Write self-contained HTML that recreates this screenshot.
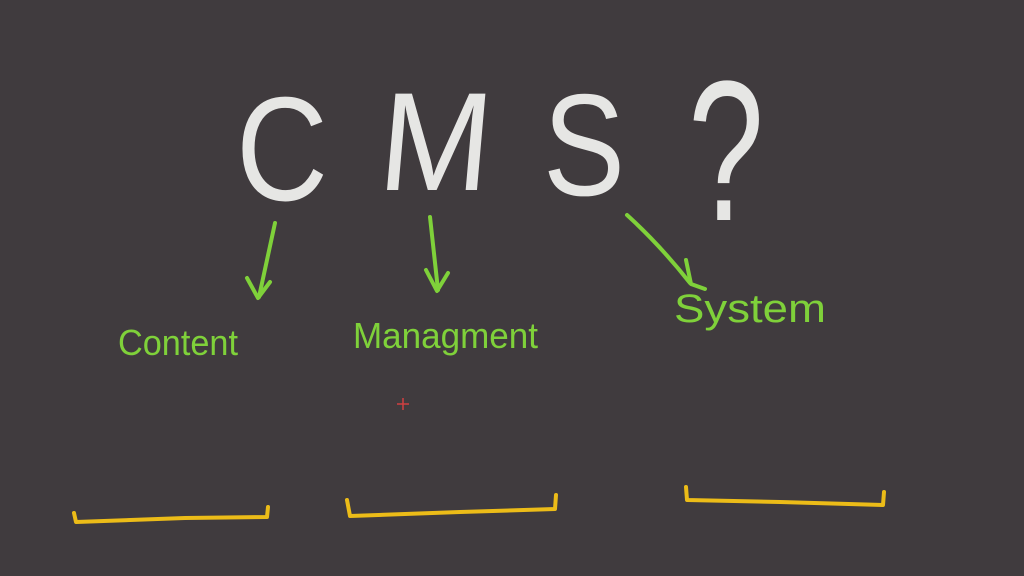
<!DOCTYPE html>
<html><head><meta charset="utf-8"><style>
html,body{margin:0;padding:0;background:#403b3e;}
svg{display:block}
</style></head><body>
<svg width="1024" height="576" viewBox="0 0 1024 576" xmlns="http://www.w3.org/2000/svg">
<rect width="1024" height="576" fill="#403b3e"/>
<g font-family="Liberation Sans, sans-serif" fill="#e6e6e4">
<text x="236" y="200" font-size="148" textLength="92" lengthAdjust="spacingAndGlyphs">C</text>
<text x="0" y="0" font-size="140" textLength="112" lengthAdjust="spacingAndGlyphs" transform="translate(376,190) skewX(-5)">M</text>
<text x="543" y="195" font-size="145" textLength="82" lengthAdjust="spacingAndGlyphs">S</text>
<text x="688" y="220" font-size="200" textLength="76" lengthAdjust="spacingAndGlyphs">?</text>
</g>
<g stroke="#7fd13a" stroke-width="4" fill="none" stroke-linecap="round" stroke-linejoin="round">
<path d="M275 223 L259 297"/><path d="M247 278 L258 298 L270 282"/>
<path d="M430 217 L438 290"/><path d="M426 270 L437 291 L448 273"/>
<path d="M627 215 Q660 245 690 283"/><path d="M686 260 L691 284 L705 289"/>
</g>
<g font-family="Liberation Sans, sans-serif" fill="#7fd13a" font-size="36">
<text x="118" y="355" textLength="120" lengthAdjust="spacingAndGlyphs">Content</text>
<text x="353" y="348" textLength="185" lengthAdjust="spacingAndGlyphs">Managment</text>
<text x="674" y="322" font-size="40" textLength="152" lengthAdjust="spacingAndGlyphs">System</text>
</g>
<g stroke="#ecbc18" stroke-width="4" fill="none" stroke-linecap="round" stroke-linejoin="round">
<path d="M74 513 L76 522 L185 518 L267 517 L268 507"/>
<path d="M347 500 L350 516 L460 512 L555 509 L556 495"/>
<path d="M686 487 L687 500 L780 502 L883 505 L884 492"/>
</g>
<g stroke="#d04040" stroke-width="1.5"><path d="M397 404 H409 M403 398 V410"/></g>
</svg>
</body></html>
